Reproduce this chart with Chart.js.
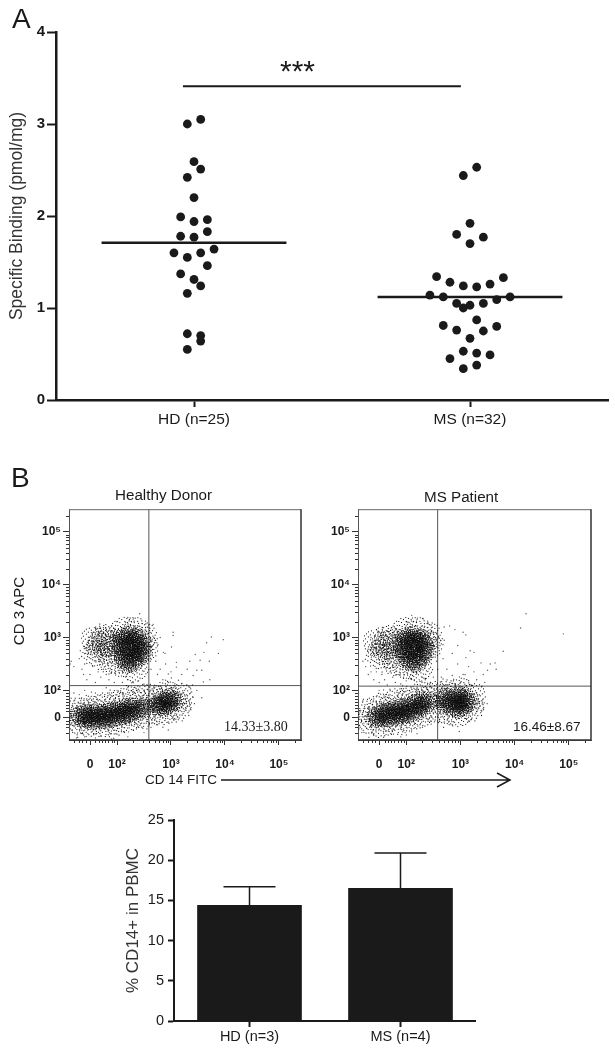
<!DOCTYPE html>
<html>
<head>
<meta charset="utf-8">
<title>Specific binding and CD14+ cells</title>
<script src="https://cdn.jsdelivr.net/npm/chart.js@4"></script>
<style>
  html, body { margin: 0; padding: 0; background: #fff; }
  #page { position: relative; width: 615px; height: 1050px; overflow: hidden; font-family: 'Liberation Sans', sans-serif; color: #1a1a1a; }
  #page canvas { position: absolute; filter: blur(0.35px); }
  .lab { position: absolute; white-space: nowrap; line-height: 1; }
</style>
</head>
<body>
<div id="page">
  <canvas id="chartA" width="615" height="440" style="left:0;top:0"></canvas>
  <canvas id="flowHD" width="305" height="280" style="left:0;top:500px"></canvas>
  <canvas id="flowMS" width="285" height="280" style="left:310px;top:500px"></canvas>
  <canvas id="chartBar" width="376" height="245" style="left:100px;top:805px"></canvas>

  <div class="lab" style="left:12px;top:5px;font-size:28px">A</div>
  <div class="lab" style="left:11px;top:464px;font-size:28px">B</div>
  <div class="lab" style="left:280px;top:56px;font-size:30px">***</div>
  <div class="lab" style="left:115px;top:487px;font-size:15.2px">Healthy Donor</div>
  <div class="lab" style="left:424px;top:489px;font-size:15.2px">MS Patient</div>
  <div class="lab" style="left:18px;top:611px;font-size:15px;transform:translate(-50%,-50%) rotate(-90deg)">CD 3 APC</div>
  <div class="lab" style="left:224px;top:720px;font-size:14px;font-family:'Liberation Serif',serif">14.33±3.80</div>
  <div class="lab" style="left:513px;top:720px;font-size:13.5px">16.46±8.67</div>
  <div class="lab" style="left:145px;top:773px;font-size:13.5px">CD 14 FITC</div>
  <svg style="position:absolute;left:215px;top:765px" width="305" height="30">
    <path d="M6 15H295M282 8L295 15L282 22" fill="none" stroke="#1a1a1a" stroke-width="1.5"/>
  </svg>
</div>

<script>
// panel A
const categoriesA = ['HD (n=25)', 'MS (n=32)'];
const ticksA = [0, 1, 2, 3, 4];
const hdValues = [3.05, 3.00, 2.59, 2.51, 2.42, 2.20, 1.99, 1.96, 1.94, 1.83, 1.78, 1.77, 1.64, 1.60, 1.60, 1.55, 1.46, 1.37, 1.31, 1.24, 1.16, 0.72, 0.70, 0.64, 0.55];
const hdColumns = [1, -1, 0, 1, -1, 0, -2, 2, 0, 2, -2, 0, 3, -3, 1, -1, 2, -2, 0, 1, -1, -1, 1, 1, -1];
const msValues = [2.53, 2.44, 1.92, 1.80, 1.77, 1.70, 1.34, 1.33, 1.28, 1.26, 1.24, 1.23, 1.14, 1.12, 1.12, 1.09, 1.05, 1.05, 1.03, 1.00, 0.87, 0.81, 0.80, 0.76, 0.75, 0.67, 0.53, 0.51, 0.49, 0.45, 0.38, 0.34];
const msColumns = [1, -1, 0, -2, 2, 0, -5, 5, -3, 3, -1, 1, -6, 6, -4, 4, -2, 2, 0, -1, 1, -4, 4, -2, 2, 0, -1, 1, 3, -3, 1, -1];
const hdMean = 1.71;
const msMean = 1.12;
const significance = 3.41;

// panel B, flow plots. axis units are decades of the biexponential display
const flowXTicks = [1.5, 2, 3, 4, 5];
const flowXLabels = ['0', '10²', '10³', '10⁴', '10⁵'];
const flowYTicks = [1.49, 2, 3, 4, 5];
const flowYLabels = ['0', '10²', '10³', '10⁴', '10⁵'];
const flowMinor = [1.2, 1.3, 1.36, 1.42, 1.6, 1.66, 1.72, 1.78, 1.84, 1.9, 1.95, 2.3, 2.48, 2.6, 2.7, 2.78, 2.85, 2.9, 2.95, 3.3, 3.48, 3.6, 3.7, 3.78, 3.85, 3.9, 3.95, 4.3, 4.48, 4.6, 4.7, 4.78, 4.85, 4.9, 4.95, 5.3];

// dense parts of the populations
const hdCore = [[2.08,3.0],[2.22,3.04],[2.36,3.0],[2.06,2.88],[2.2,2.92],[2.34,2.92],[2.46,2.86],[2.08,2.76],[2.22,2.8],[2.36,2.78],[2.48,2.72],[2.12,2.64],[2.26,2.68],[2.4,2.64],[2.18,2.54],[2.3,2.54],
  [1.3,1.5],[1.42,1.46],[1.42,1.56],[1.54,1.44],[1.54,1.54],[1.66,1.46],[1.66,1.56],[1.78,1.46],[1.78,1.56],[1.9,1.48],[1.9,1.58],[2.02,1.52],[2.02,1.62],[2.14,1.54],[2.14,1.64],[2.26,1.58],[2.26,1.68],[2.38,1.62],[2.5,1.68],
  [2.74,1.72],[2.84,1.7],[2.84,1.8],[2.96,1.74],[2.96,1.84],[3.06,1.8]];
// sparser surroundings of the same populations
const hdHalo = [[1.58,2.95],[1.68,2.82],[1.6,2.7],[1.78,3.0],[1.84,2.76],[1.72,2.95],[1.88,2.88],[2.1,3.12],[2.35,3.14],[2.52,2.82],[2.34,2.42],[2.08,2.5],[1.9,2.55],[2.5,3.02],
  [1.28,1.42],[1.28,1.62],[1.5,1.38],[1.5,1.66],[1.74,1.36],[1.74,1.7],[1.98,1.4],[1.98,1.76],[2.22,1.46],[2.22,1.84],[2.46,1.52],[2.46,1.86],[2.7,1.6],[2.7,1.86],[2.9,1.6],[2.92,1.94],[3.14,1.68],[3.16,1.88]];
const hdEvents = [[1.13,2.5],[1.15,2.55],[1.2,2.45],[1.3,2.6],[1.32,2.75],[1.35,2.4],[1.38,2.3],[1.4,2.5],[1.42,2.7],[1.44,2.2],[1.5,2.3],[1.55,2.45],[1.6,2.15],[1.65,2.35],[1.7,2.25],[1.75,2.4],[1.8,2.3],[1.85,2.2],[1.9,2.35],[1.95,2.15],
  [2.0,3.3],[2.42,3.45],[2.2,3.38],[2.3,3.35],[2.1,2.15],[2.2,2.2],[2.3,2.15],[2.4,2.18],[2.5,2.12],[2.62,2.95],[2.64,2.75],[2.62,2.55],[2.63,2.4],
  [3.97,2.96],[3.75,3.01],[3.66,2.90],[3.88,2.70],[3.61,2.72],[3.54,2.57],[3.71,2.55],[3.48,2.38],[3.57,2.38],[3.41,2.28],[3.72,2.20],[3.60,2.16],[3.04,3.1],[3.04,3.04],[2.86,2.72],[2.89,2.7],[3.01,2.82],[2.67,3.25],[2.8,3.0],[3.1,2.53],[3.1,2.44],[2.95,2.31],[3.14,2.19],[3.35,2.06],[3.29,2.09],[3.2,2.13],[3.41,1.87],[3.57,1.86],[3.48,2.0],[2.7,2.9],[2.72,2.55],[2.75,2.3],[2.8,2.4],[2.85,2.2],[2.9,2.5],[2.95,2.15],[3.0,2.35],[3.05,2.05],[3.2,2.3],[3.25,2.0],[3.3,2.4],[3.35,2.55],[3.4,2.1],[3.45,2.68],
  [3.22,1.95],[3.26,1.75],[3.3,1.85],[3.34,1.7],[3.36,1.95],[3.28,1.62],[3.2,1.6],[3.12,1.5],[3.05,1.45],[2.95,1.4],[2.75,1.35],[2.85,1.3],[2.95,1.25],[3.1,1.4],
  [1.12,1.5],[1.14,1.35],[1.15,1.6],[1.17,1.25],[1.18,1.7],[1.2,1.8],[1.26,1.16],[1.36,1.2],[1.46,1.18],[1.57,1.16],[1.7,1.14],[1.84,1.16],[1.98,1.18],[2.14,1.2],[2.3,1.25],[2.46,1.3],[2.6,1.35],
  [1.25,1.1],[1.4,1.12],[1.6,1.1],[1.9,1.08],[2.2,1.12],[2.5,1.2],[1.4,2.0],[1.6,1.95],[1.8,2.05],[2.0,2.0],[2.2,2.05],[2.4,2.02],[2.55,2.1],[1.2,1.95],[2.7,2.06],[2.8,2.02],[2.9,2.08],[3.0,2.04],[1.3,1.92],[1.5,1.85],[1.7,1.92],[1.9,1.95],[2.1,1.96],[2.3,1.98],[2.5,2.0]];

const msCore = [[1.98,3.0],[2.12,3.02],[2.26,2.98],[1.92,2.88],[2.06,2.92],[2.2,2.92],[2.34,2.88],[1.94,2.76],[2.08,2.8],[2.22,2.8],[2.36,2.74],[2.0,2.66],[2.14,2.68],[2.28,2.64],[2.08,2.56],[2.2,2.54],
  [1.44,1.48],[1.56,1.48],[1.56,1.58],[1.68,1.5],[1.68,1.6],[1.8,1.52],[1.8,1.62],[1.92,1.54],[1.92,1.66],[2.04,1.56],[2.04,1.68],[2.16,1.62],[2.16,1.74],[2.28,1.7],[2.28,1.8],[2.4,1.78],
  [2.72,1.74],[2.72,1.86],[2.84,1.7],[2.84,1.82],[2.96,1.66],[2.96,1.78],[2.96,1.9],[3.06,1.72],[3.06,1.84],[3.14,1.78]];
const msHalo = [[1.45,2.9],[1.58,2.78],[1.5,2.65],[1.66,2.98],[1.72,2.68],[1.62,2.88],[1.78,2.9],[1.96,3.12],[2.22,3.14],[2.42,2.86],[2.24,2.42],[2.0,2.46],[1.82,2.52],[2.42,3.02],
  [1.32,1.42],[1.34,1.6],[1.56,1.36],[1.56,1.7],[1.8,1.4],[1.8,1.78],[2.04,1.46],[2.04,1.84],[2.26,1.54],[2.3,1.92],[2.5,1.64],[2.52,1.92],[2.76,1.6],[2.76,1.96],[2.98,1.56],[3.0,2.0],[3.2,1.68],[3.22,1.88]];
const msEvents = [[1.2,2.55],[1.25,2.45],[1.3,2.3],[1.35,2.35],[1.4,2.2],[1.45,2.35],[1.5,2.15],[1.55,2.3],[1.6,2.2],[1.65,2.1],[1.7,2.35],[1.75,2.25],[1.8,2.15],[1.85,2.3],[1.9,2.12],[1.95,2.25],[2.0,2.18],[2.08,2.22],[1.35,3.0],[1.4,2.7],[1.42,2.88],[1.47,3.1],
  [2.0,3.3],[2.1,3.42],[2.2,3.34],[2.3,3.36],[2.4,3.28],[2.5,3.1],[2.56,2.95],[2.6,2.8],[2.56,2.55],[2.58,2.4],[2.3,2.25],[2.35,2.2],[2.45,2.15],[2.5,2.25],[2.15,2.2],
  [4.21,3.45],[4.11,3.18],[4.9,3.07],[3.79,2.74],[3.64,2.52],[3.66,2.4],[3.55,2.5],[3.5,2.38],[3.42,2.3],[3.38,2.52],[3.3,2.2],[3.25,2.35],[3.2,2.1],[3.15,2.45],[3.1,2.62],[3.05,2.3],[3.0,2.15],[2.95,2.5],[2.9,3.15],[2.95,2.85],[2.85,2.7],[2.8,3.22],[2.75,2.4],[2.7,3.2],[2.7,2.95],[2.68,2.6],[3.05,3.1],[3.1,3.05],[3.18,2.75],[3.25,2.72],[2.65,2.25],[2.75,2.1],[2.85,2.28],[2.9,2.12],[3.4,2.08],[3.45,2.15],
  [1.13,1.45],[1.15,1.3],[1.16,1.62],[1.18,1.2],[1.2,1.8],[1.22,1.38],[1.25,1.52],[1.27,1.28],[1.3,1.68],[1.32,1.85],[1.37,1.2],[1.46,1.9],[1.58,1.22],[1.62,1.88],[1.74,1.25],[1.86,1.95],[1.98,1.2],[2.02,2.0],[2.1,1.25],[2.22,2.02],[2.3,1.3],[2.38,2.05],[2.46,1.36],[2.58,1.42],[2.7,1.4],[2.85,1.35],[2.98,1.22],[3.15,1.42],[3.28,1.8],[3.3,1.6],[3.35,1.75],[3.38,1.62],[3.3,1.95],
  [1.4,1.15],[1.6,1.14],[1.9,1.12],[2.2,1.18],[1.5,2.0],[1.7,2.02],[1.95,2.03],[2.2,2.06],[2.45,2.08],[2.7,2.04],[2.9,2.06],[3.05,2.02]];

// bar chart under the flow plots
const barCategories = ['HD (n=3)', 'MS (n=4)'];
const barValues = [14.4, 16.5];
const barErrors = [2.3, 4.4];
const barTicks = [0, 5, 10, 15, 20, 25];

const INK = '#1a1a1a';
Chart.defaults.font.family = "'Liberation Sans', 'DejaVu Sans', sans-serif";
Chart.defaults.color = INK;
Chart.defaults.animation = false;
Chart.defaults.responsive = false;
Chart.defaults.plugins.legend.display = false;
Chart.defaults.plugins.tooltip.enabled = false;

// markers for the dense parts: a patch of single events instead of a solid dot
const coreRows = [
  '..........#..........',
  '.......#.....#.......',
  '....#.....#.....#....',
  '......#.#...#.#......',
  '...#.....#.#.....#...',
  '..#..#.#...#.#.#.....',
  '.....#..#.#....#..#..',
  '.#.#...#...#.#...#...',
  '...#.#..#.#..#.#...#.',
  '..#...#...#.#...#.#..',
  '#...#..#.#...#.#...#.',
  '..#.#.#...#.#..#.#...',
  '.#...#..#.#..#...#.#.',
  '...#...#..#.#..#..#..',
  '..#..#..#...#.#..#...',
  '....#..#.#.#...#.....',
  '...#..#....#.#...#...',
  '......#.#.#...#......',
  '....#.....#.#...#....',
  '.......#...#.........',
  '..........#..........'
];
const haloRows = [
  '.............#.............',
  '........#..........#.......',
  '.....#.........#.........#.',
  '..........#.........#......',
  '...#.............#.........',
  '.......#....#.........#....',
  '.#.........#......#........',
  '.....#..........#.......#..',
  '...........#........#......',
  '..#......#.....#.........#.',
  '.......#............#......',
  '#..........#....#.......#..',
  '....#...............#......',
  '........#.....#.........#..',
  '..#.........#.......#......',
  '......#.........#.........#',
  '.#........#.........#......',
  '.....#.........#.......#...',
  '...........#........#......',
  '..#.....#.........#........',
  '.......#.....#.........#...',
  '....#..........#...........',
  '.........#.........#.......',
  '.....#.......#.........#...',
  '..........#........#.......',
  '.......#.......#...........',
  '.............#.............'
];
function speckleMarker(rows) {
  const c = document.createElement('canvas');
  c.width = c.height = rows.length;
  const g = c.getContext('2d');
  g.fillStyle = '#0a0a0a';
  rows.forEach((row, y) => {
    [...row].forEach((ch, x) => {
      if (ch === '#') g.fillRect(x, y, 1, 1);
    });
  });
  return c;
}
const coreMarker = speckleMarker(coreRows);
const haloMarker = speckleMarker(haloRows);

function scaleWidth(w) { return scale => { scale.width = w; }; }
function scaleHeight(h) { return scale => { scale.height = h; }; }
function fixedTicks(values) {
  return scale => { scale.ticks = values.map(v => ({ value: v })); };
}
function segment(x1, x2, y, color, width) {
  return {
    type: 'scatter', showLine: true, pointRadius: 0, borderColor: color, borderWidth: width,
    data: [{ x: x1, y: y }, { x: x2, y: y }]
  };
}
function swarm(center, values, columns) {
  return values.map((v, i) => ({ x: center + columns[i] * 0.0242, y: v }));
}
function toPoints(pairs) {
  return pairs.map(p => ({ x: p[0], y: p[1] }));
}

new Chart(document.getElementById('chartA'), {
  type: 'scatter',
  data: {
    datasets: [
      { data: swarm(1, hdValues, hdColumns), backgroundColor: INK, pointRadius: 4.4, borderWidth: 0 },
      { data: swarm(2, msValues, msColumns), backgroundColor: INK, pointRadius: 4.4, borderWidth: 0 },
      segment(0.665, 1.335, hdMean, INK, 2.5),
      segment(1.665, 2.335, msMean, INK, 2.5),
      segment(0.96, 1.967, significance, INK, 2)
    ]
  },
  options: {
    layout: { padding: { top: 32, right: 7 } },
    scales: {
      x: {
        type: 'linear', min: 0.5, max: 2.5,
        afterFit: scaleHeight(40),
        afterBuildTicks: fixedTicks([1, 2]),
        grid: { drawOnChartArea: false, tickLength: 7, tickWidth: 2, tickColor: INK },
        border: { color: INK, width: 2.5 },
        ticks: { font: { size: 15.5 }, padding: 3, maxRotation: 0, callback: v => categoriesA[v - 1] }
      },
      y: {
        min: 0, max: 4,
        afterFit: scaleWidth(56),
        afterBuildTicks: fixedTicks(ticksA),
        grid: { drawOnChartArea: false, tickLength: 9, tickWidth: 2, tickColor: INK },
        border: { color: INK, width: 2.5 },
        ticks: { font: { size: 15, weight: 'bold' }, padding: 2 },
        title: { display: true, text: 'Specific Binding (pmol/mg)', font: { size: 17.5 }, padding: { top: 7, bottom: 0 }, color: '#333' }
      }
    }
  }
});

// frame and small ticks of the flow plots
const flowFrame = {
  id: 'flowFrame',
  afterDraw(chart) {
    const { ctx, chartArea: a, scales: s } = chart;
    ctx.save();
    ctx.strokeStyle = '#333';
    ctx.lineWidth = 1;
    ctx.beginPath();
    flowMinor.forEach(v => {
      const px = Math.round(s.x.getPixelForValue(v)) + 0.5;
      ctx.moveTo(px, a.bottom);
      ctx.lineTo(px, a.bottom + 3);
      const py = Math.round(s.y.getPixelForValue(v)) + 0.5;
      if (py > a.top) {
        ctx.moveTo(a.left, py);
        ctx.lineTo(a.left - 3, py);
      }
    });
    ctx.stroke();
    ctx.strokeStyle = '#666';
    ctx.beginPath();
    ctx.moveTo(a.left, a.top + 0.5);
    ctx.lineTo(a.right, a.top + 0.5);
    ctx.stroke();
    ctx.strokeStyle = '#333';
    ctx.lineWidth = 1.5;
    ctx.beginPath();
    ctx.moveTo(a.right, a.top);
    ctx.lineTo(a.right, a.bottom);
    ctx.lineTo(a.left, a.bottom);
    ctx.stroke();
    ctx.restore();
  }
};

function flowChart(id, yWidth, core, halo, events, gateX, gateY) {
  const xMin = 1.11, xMax = 5.41, yMin = 1.06, yMax = 5.43;
  return new Chart(document.getElementById(id), {
    type: 'scatter',
    data: {
      datasets: [
        { data: toPoints(core), pointStyle: coreMarker, rotation: c => c.dataIndex * 47, radius: 10 },
        { data: toPoints(halo), pointStyle: haloMarker, rotation: c => c.dataIndex * 61, radius: 13 },
        { data: toPoints(events), backgroundColor: 'rgba(20,20,20,0.7)', pointRadius: 0.7, borderWidth: 0 },
        { type: 'scatter', showLine: true, pointRadius: 0, borderColor: '#555', borderWidth: 1, data: [{ x: gateX, y: yMin }, { x: gateX, y: yMax }] },
        segment(xMin, xMax, gateY, '#555', 1)
      ]
    },
    options: {
      layout: { autoPadding: false, padding: { top: 8, right: 4 } },
      scales: {
        x: {
          type: 'linear', min: xMin, max: xMax,
          afterFit: scaleHeight(40),
          afterBuildTicks: fixedTicks(flowXTicks),
          grid: { drawOnChartArea: false, tickLength: 5, tickWidth: 1, tickColor: '#333' },
          border: { color: '#555', width: 1 },
          ticks: {
            font: { size: 12, weight: 'bold' }, padding: 12, maxRotation: 0,
            callback: v => flowXLabels[flowXTicks.indexOf(v)]
          }
        },
        y: {
          min: yMin, max: yMax,
          afterFit: scaleWidth(yWidth),
          afterBuildTicks: fixedTicks(flowYTicks),
          grid: { drawOnChartArea: false, tickLength: 6, tickWidth: 1, tickColor: '#333' },
          border: { color: '#555', width: 1 },
          ticks: { font: { size: 12, weight: 'bold' }, padding: 2, callback: v => flowYLabels[flowYTicks.indexOf(v)] }
        }
      }
    },
    plugins: [flowFrame]
  });
}

flowChart('flowHD', 69, hdCore, hdHalo, hdEvents, 2.59, 2.09);
flowChart('flowMS', 48, msCore, msHalo, msEvents, 2.58, 2.08);

const errorBars = {
  id: 'errorBars',
  beforeDatasetsDraw(chart) {
    const { ctx, scales: s } = chart;
    ctx.save();
    ctx.strokeStyle = INK;
    ctx.lineWidth = 1.5;
    barValues.forEach((v, i) => {
      const px = s.x.getPixelForValue(i);
      const top = s.y.getPixelForValue(v + barErrors[i]);
      ctx.beginPath();
      ctx.moveTo(px, s.y.getPixelForValue(v));
      ctx.lineTo(px, top);
      ctx.moveTo(px - 26, top);
      ctx.lineTo(px + 26, top);
      ctx.stroke();
    });
    ctx.restore();
  }
};

new Chart(document.getElementById('chartBar'), {
  type: 'bar',
  data: {
    labels: barCategories,
    datasets: [{ data: barValues, backgroundColor: INK, barThickness: 104 }]
  },
  options: {
    layout: { padding: { top: 15 } },
    scales: {
      x: {
        afterFit: scaleHeight(29),
        grid: { offset: false, drawOnChartArea: false, tickLength: 6, tickWidth: 2, tickColor: INK },
        border: { color: INK, width: 2 },
        ticks: { font: { size: 14.5 }, padding: 1, maxRotation: 0 }
      },
      y: {
        min: 0, max: 25,
        afterFit: scaleWidth(74),
        afterBuildTicks: fixedTicks(barTicks),
        grid: { drawOnChartArea: false, tickLength: 6, tickWidth: 2, tickColor: INK },
        border: { color: INK, width: 2 },
        ticks: { font: { size: 14.5 }, padding: 4 },
        title: { display: true, text: '% CD14+ in PBMC', font: { size: 17 }, padding: { top: 23, bottom: 0 }, color: '#333' }
      }
    }
  },
  plugins: [errorBars]
});
</script>
</body>
</html>
